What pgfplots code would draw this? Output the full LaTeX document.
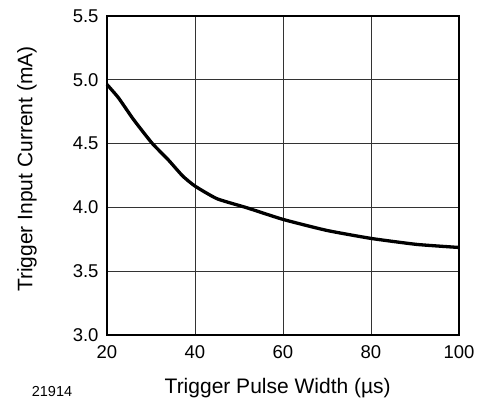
\documentclass[border=0pt]{standalone}
\usepackage{pgfplots}
\pgfplotsset{compat=1.18}
\usepackage{fontspec}
\setmainfont{Liberation Sans}
\begin{document}
\begin{tikzpicture}
\begin{axis}[
    scale only axis,
    width=352bp, height=319bp,
    xmin=20, xmax=100,
    ymin=3.0, ymax=5.5,
    xtick={20,40,60,80,100},
    ytick={3.0,3.5,4.0,4.5,5.0,5.5},
    yticklabel style={/pgf/number format/fixed, /pgf/number format/fixed zerofill, /pgf/number format/precision=1},
    /pgf/number format/assume math mode=true,
    major tick length=0pt,
    tick label style={font=\fontsize{18.5bp}{20bp}\selectfont},
    xticklabel style={yshift=-7bp},
    yticklabel style={xshift=-5bp},
    label style={font=\fontsize{21bp}{24bp}\selectfont},
    xlabel={Trigger Pulse Width (µs)},
    ylabel={Trigger Input Current (mA)},
    xlabel style={at={(rel axis cs:0.485,0)}, anchor=center, yshift=-53bp},
    ylabel style={at={(rel axis cs:0,0.52)}, anchor=center, yshift=80bp},
    grid=major,
    grid style={line width=0.9bp, black!80},
    axis line style={line width=2.2bp},
    clip=false,
]
\addplot[line width=3.3bp, black, smooth, tension=0.3] coordinates {
(20,4.963)
(22.6,4.859)
(26,4.69)
(30.2,4.505)
(34,4.37)
(37.2,4.246)
(40,4.167)
(45,4.068)
(51.8,3.997)
(60,3.906)
(69.9,3.82)
(80,3.757)
(90.4,3.71)
(100,3.686)
};
\coordinate (ll) at (rel axis cs:0,0);
\coordinate (ur) at (rel axis cs:1,1);
\end{axis}
\node[font=\fontsize{14.5bp}{16bp}\selectfont] at ([shift={(-55bp,-56bp)}]ll) {21914};
\path ([shift={(-107bp,-68bp)}]ll) rectangle ([shift={(23bp,16bp)}]ur);
\end{tikzpicture}
\end{document}
